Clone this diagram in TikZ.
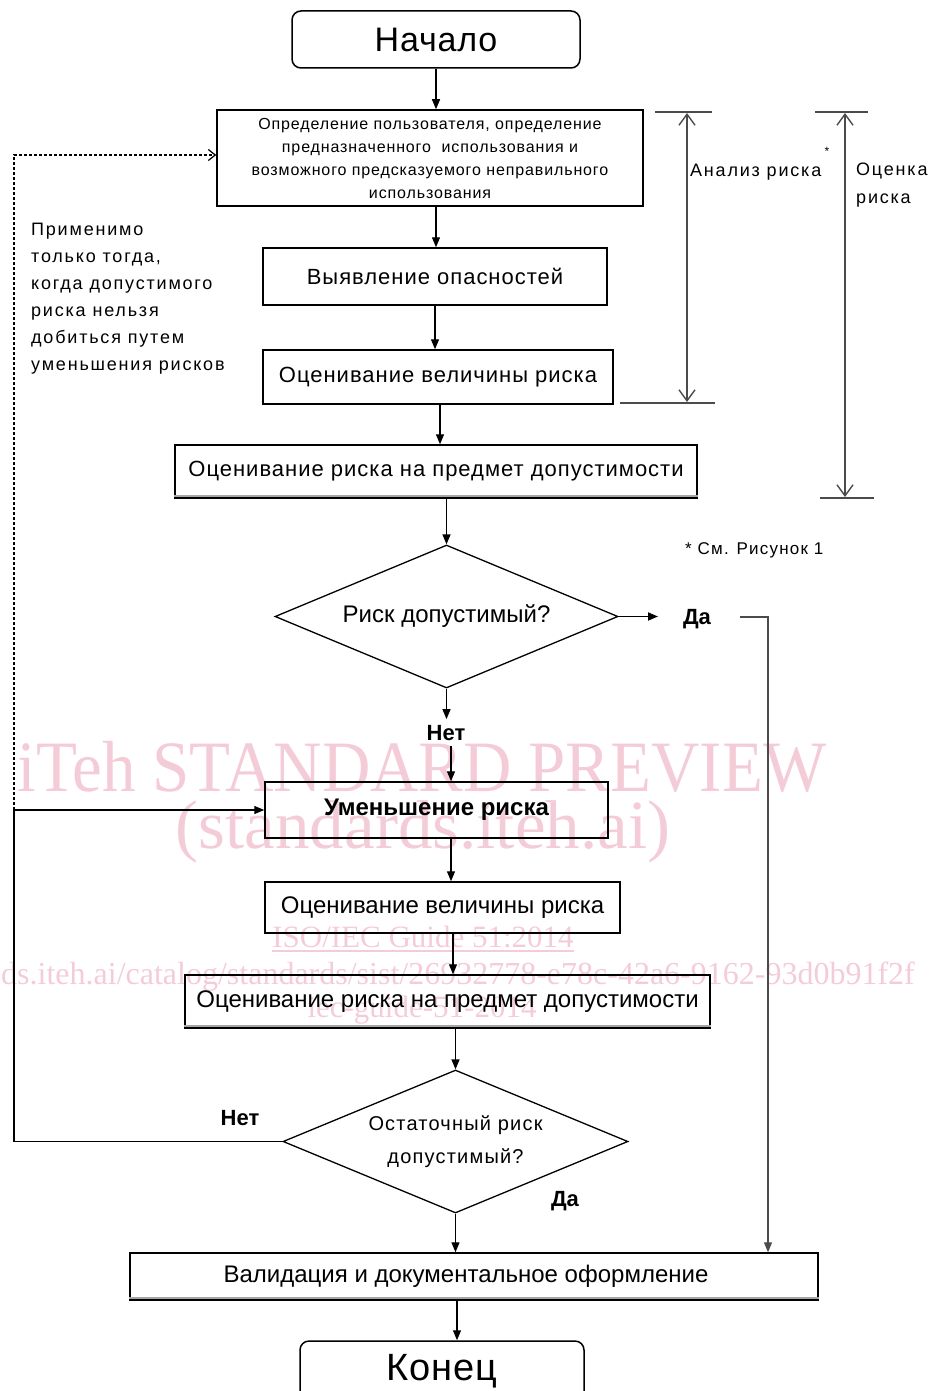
\documentclass[tikz,border=0pt]{standalone}
\usepackage{fontspec}
\setmainfont{Liberation Sans}
\newfontfamily\wmfont{Liberation Serif}
\usetikzlibrary{arrows.meta,shapes.geometric,calc}
\definecolor{wm}{RGB}{244,204,215}
\definecolor{dimgray}{RGB}{75,75,75}
\newcommand\fntTop{\fontsize{22}{24}\selectfont\addfontfeatures{LetterSpace=4.5}}
\newcommand\fntBone{\fontsize{16}{23}\selectfont\addfontfeatures{LetterSpace=5.5}}
\newcommand\fntSide{\fontsize{18}{27}\selectfont\addfontfeatures{LetterSpace=10}}
\newcommand\fntSideB{\fontsize{18}{28}\selectfont\addfontfeatures{LetterSpace=10}}
\newcommand\fntSee{\fontsize{17}{18}\selectfont\addfontfeatures{LetterSpace=7}}
\newcommand\fntDtwo{\fontsize{20}{33}\selectfont\addfontfeatures{LetterSpace=6}}
\newcommand\fntLow{\fontsize{24}{26}\selectfont}
\begin{document}
\begin{tikzpicture}[x=1pt,y=-1pt,
  box/.style={draw,line width=1.5pt,inner sep=0pt,align=center},
  term/.style={box,rounded corners=9pt},
  dec/.style={draw,diamond,aspect=2.4,line width=1.3pt,inner sep=0pt,align=center},
  flow/.style={line width=1.3pt,-{Triangle[length=10pt,width=8pt]}},
  dimline/.style={draw=dimgray,line width=1.4pt,{Straight Barb[length=11pt,width=16pt]}-{Straight Barb[length=11pt,width=16pt]}},
  dimtick/.style={draw=dimgray,line width=2pt},
  dashline/.style={line width=1.2pt,dash pattern=on 3pt off 2pt,-{Straight Barb[length=7pt,width=11pt]}},
  lab/.style={font=\fontsize{22}{24}\selectfont\bfseries,inner sep=0pt},
  wmtext/.style={text=wm,inner sep=0pt},
  bandline/.style={draw=gray!70,line width=2pt}
]
\useasboundingbox (0,0) rectangle (931,1391);

% watermark (behind)
\node[wmtext,font=\wmfont\fontsize{67}{67}\selectfont] (wm1) at (422,767) {\scalebox{1}[1.08]{iTeh STANDARD PREVIEW}};
\node[wmtext,font=\wmfont\fontsize{69}{69}\selectfont] (wm2) at (423,832) {(standards.iteh.ai)};
\node[wmtext,font=\wmfont\fontsize{31}{31}\selectfont] (wm3) at (423,937) {ISO/IEC Guide 51:2014};
\draw[wm,line width=1.5pt] ([yshift=-3pt]wm3.south west) -- ([yshift=-3pt]wm3.south east);
\node[wmtext,font=\wmfont\fontsize{32}{32}\selectfont,anchor=west] (wm4) at (1,977) {ds.iteh.ai/catalog/standards/sist/26932778-e78c-42a6-9162-93d0b91f2f};
\node[wmtext,font=\wmfont\fontsize{31}{31}\selectfont] (wm5) at (422,1010) {iec-guide-51-2014};

% nodes
\node[term,minimum width=288pt,minimum height=57pt,font=\fontsize{34}{36}\selectfont\addfontfeatures{LetterSpace=2.5}] (start) at (436,39.5) {Начало};
\node[box,minimum width=426pt,minimum height=96pt,font=\fntBone] (b1) at (430,158) {Определение пользователя, определение\\предназначенного\ \ использования и\\возможного предсказуемого неправильного\\использования};
\node[box,minimum width=344pt,minimum height=57pt,font=\fntTop] (b2) at (435,276.5) {Выявление опасностей};
\node[box,minimum width=350pt,minimum height=54pt,font=\fntTop] (b3) at (438,377) {Оценивание величины риска};
\node[box,minimum width=522pt,minimum height=53pt,font=\fntTop] (b4) at (436,471.5) {Оценивание риска на предмет допустимости};
\node[dec,minimum width=343pt,minimum height=143pt,font=\fntLow] (d1) at (446.5,616.5) {Риск допустимый?};
\node[box,minimum width=343pt,minimum height=56pt,font=\fntLow\bfseries] (b5) at (436.5,810) {Уменьшение риска};
\node[box,minimum width=355pt,minimum height=51pt,font=\fntLow] (b6) at (442.5,907.5) {Оценивание величины риска};
\node[box,minimum width=525pt,minimum height=53pt,font=\fntLow] (b7) at (447.5,1001.5) {Оценивание риска на предмет допустимости};
\node[dec,minimum width=345pt,minimum height=143pt,font=\fntDtwo] (d2) at (455.5,1141.5) {\rule{0pt}{12pt}Остаточный риск\\допустимый?};
\node[box,minimum width=688pt,minimum height=47pt,font=\fntLow] (b8) at (474,1276.5) {Валидация и документальное оформление\hspace*{16pt}};
\node[term,minimum width=284pt,minimum height=60pt,font=\fontsize{38}{40}\selectfont\addfontfeatures{LetterSpace=2}] (end) at (442,1371) {Конец};

% shadow bands
\draw[bandline] ([yshift=3pt]b4.south west) -- ([yshift=3pt]b4.south east);
\draw[bandline] ([yshift=3pt]b7.south west) -- ([yshift=3pt]b7.south east);
\draw[bandline] ([yshift=3pt]b8.south west) -- ([yshift=3pt]b8.south east);

% labels
\node[lab] (no1) at (446,733) {Нет};
\node[lab] (yes1) at (697,619) {Да};
\node[lab] (no2) at (240,1118) {Нет};
\node[lab] (yes2) at (565,1201) {Да};

\node[anchor=north west,align=left,font=\fntSide,inner sep=0pt] (note) at (31,223) {Применимо\\только тогда,\\когда допустимого\\риска нельзя\\добиться путем\\уменьшения рисков};
\node[anchor=west,font=\fntSide,inner sep=0pt] (an) at (690,172) {Анализ риска};
\node[font=\fontsize{12}{12}\selectfont,inner sep=0pt] (star) at (827,151) {*};
\node[anchor=north west,align=left,font=\fntSideB,inner sep=0pt] (oc) at (856,163) {Оценка\\риска};
\node[anchor=west,font=\fntSee,inner sep=0pt] (see) at (685,550) {* См. Рисунок 1};

% dimension marks
\draw[dimtick] (655,112) -- (712,112);
\draw[dimtick] (620,403) -- (715,403);
\draw[dimline] (687,113) -- (687,402);
\draw[dimtick] (815,112) -- (868,112);
\draw[dimtick] (820,498) -- (874,498);
\draw[dimline] (845,113) -- (845,497);

% main flow
\draw[flow] (start.south) -- (start.south |- b1.north);
\draw[flow] ([xshift=6pt]b1.south) -- ([xshift=6pt]b1.south |- b2.north);
\draw[flow] (b2.south) -- (b2.south |- b3.north);
\draw[flow] ([xshift=2pt]b3.south) -- ([xshift=2pt]b3.south |- b4.north);
\draw[flow] (b4.south -| d1.north) -- (d1.north);
\draw[flow] (d1.south) -- ([yshift=6pt]d1.south |- no1.north);
\draw[flow] ([xshift=5pt,yshift=-5pt]no1.south) -- ([xshift=5pt]no1.south |- b5.north);
\draw[flow] ([xshift=14.5pt]b5.south) -- ([xshift=14.5pt]b5.south |- b6.north);
\draw[flow] ([xshift=10.5pt]b6.south) -- ([xshift=10.5pt]b6.south |- b7.north);
\draw[flow] (b7.south -| d2.north) -- (d2.north);
\draw[flow] (d2.south) -- (d2.south |- b8.north);
\draw[flow] ([xshift=15pt]end.north |- b8.south) -- ([xshift=15pt]end.north);

% yes branch of first decision
\coordinate (ya) at (658,616.5);
\coordinate (yb) at (740,617);
\coordinate (yc) at (768,617);
\draw[flow,line width=1.8pt] (d1.east) -- (ya);
\draw[flow,draw=dimgray] (yb) -- (yc) -- (yc |- b8.north);

% feedback loops
\coordinate (lc) at (14,810);
\coordinate (ld) at (14,155);
\draw[flow] (d2.west) -- (d2.west -| lc) -- (lc) -- (b5.west);
\draw[dashline] (lc) -- (ld) -- (ld -| b1.west);
\end{tikzpicture}
\end{document}
